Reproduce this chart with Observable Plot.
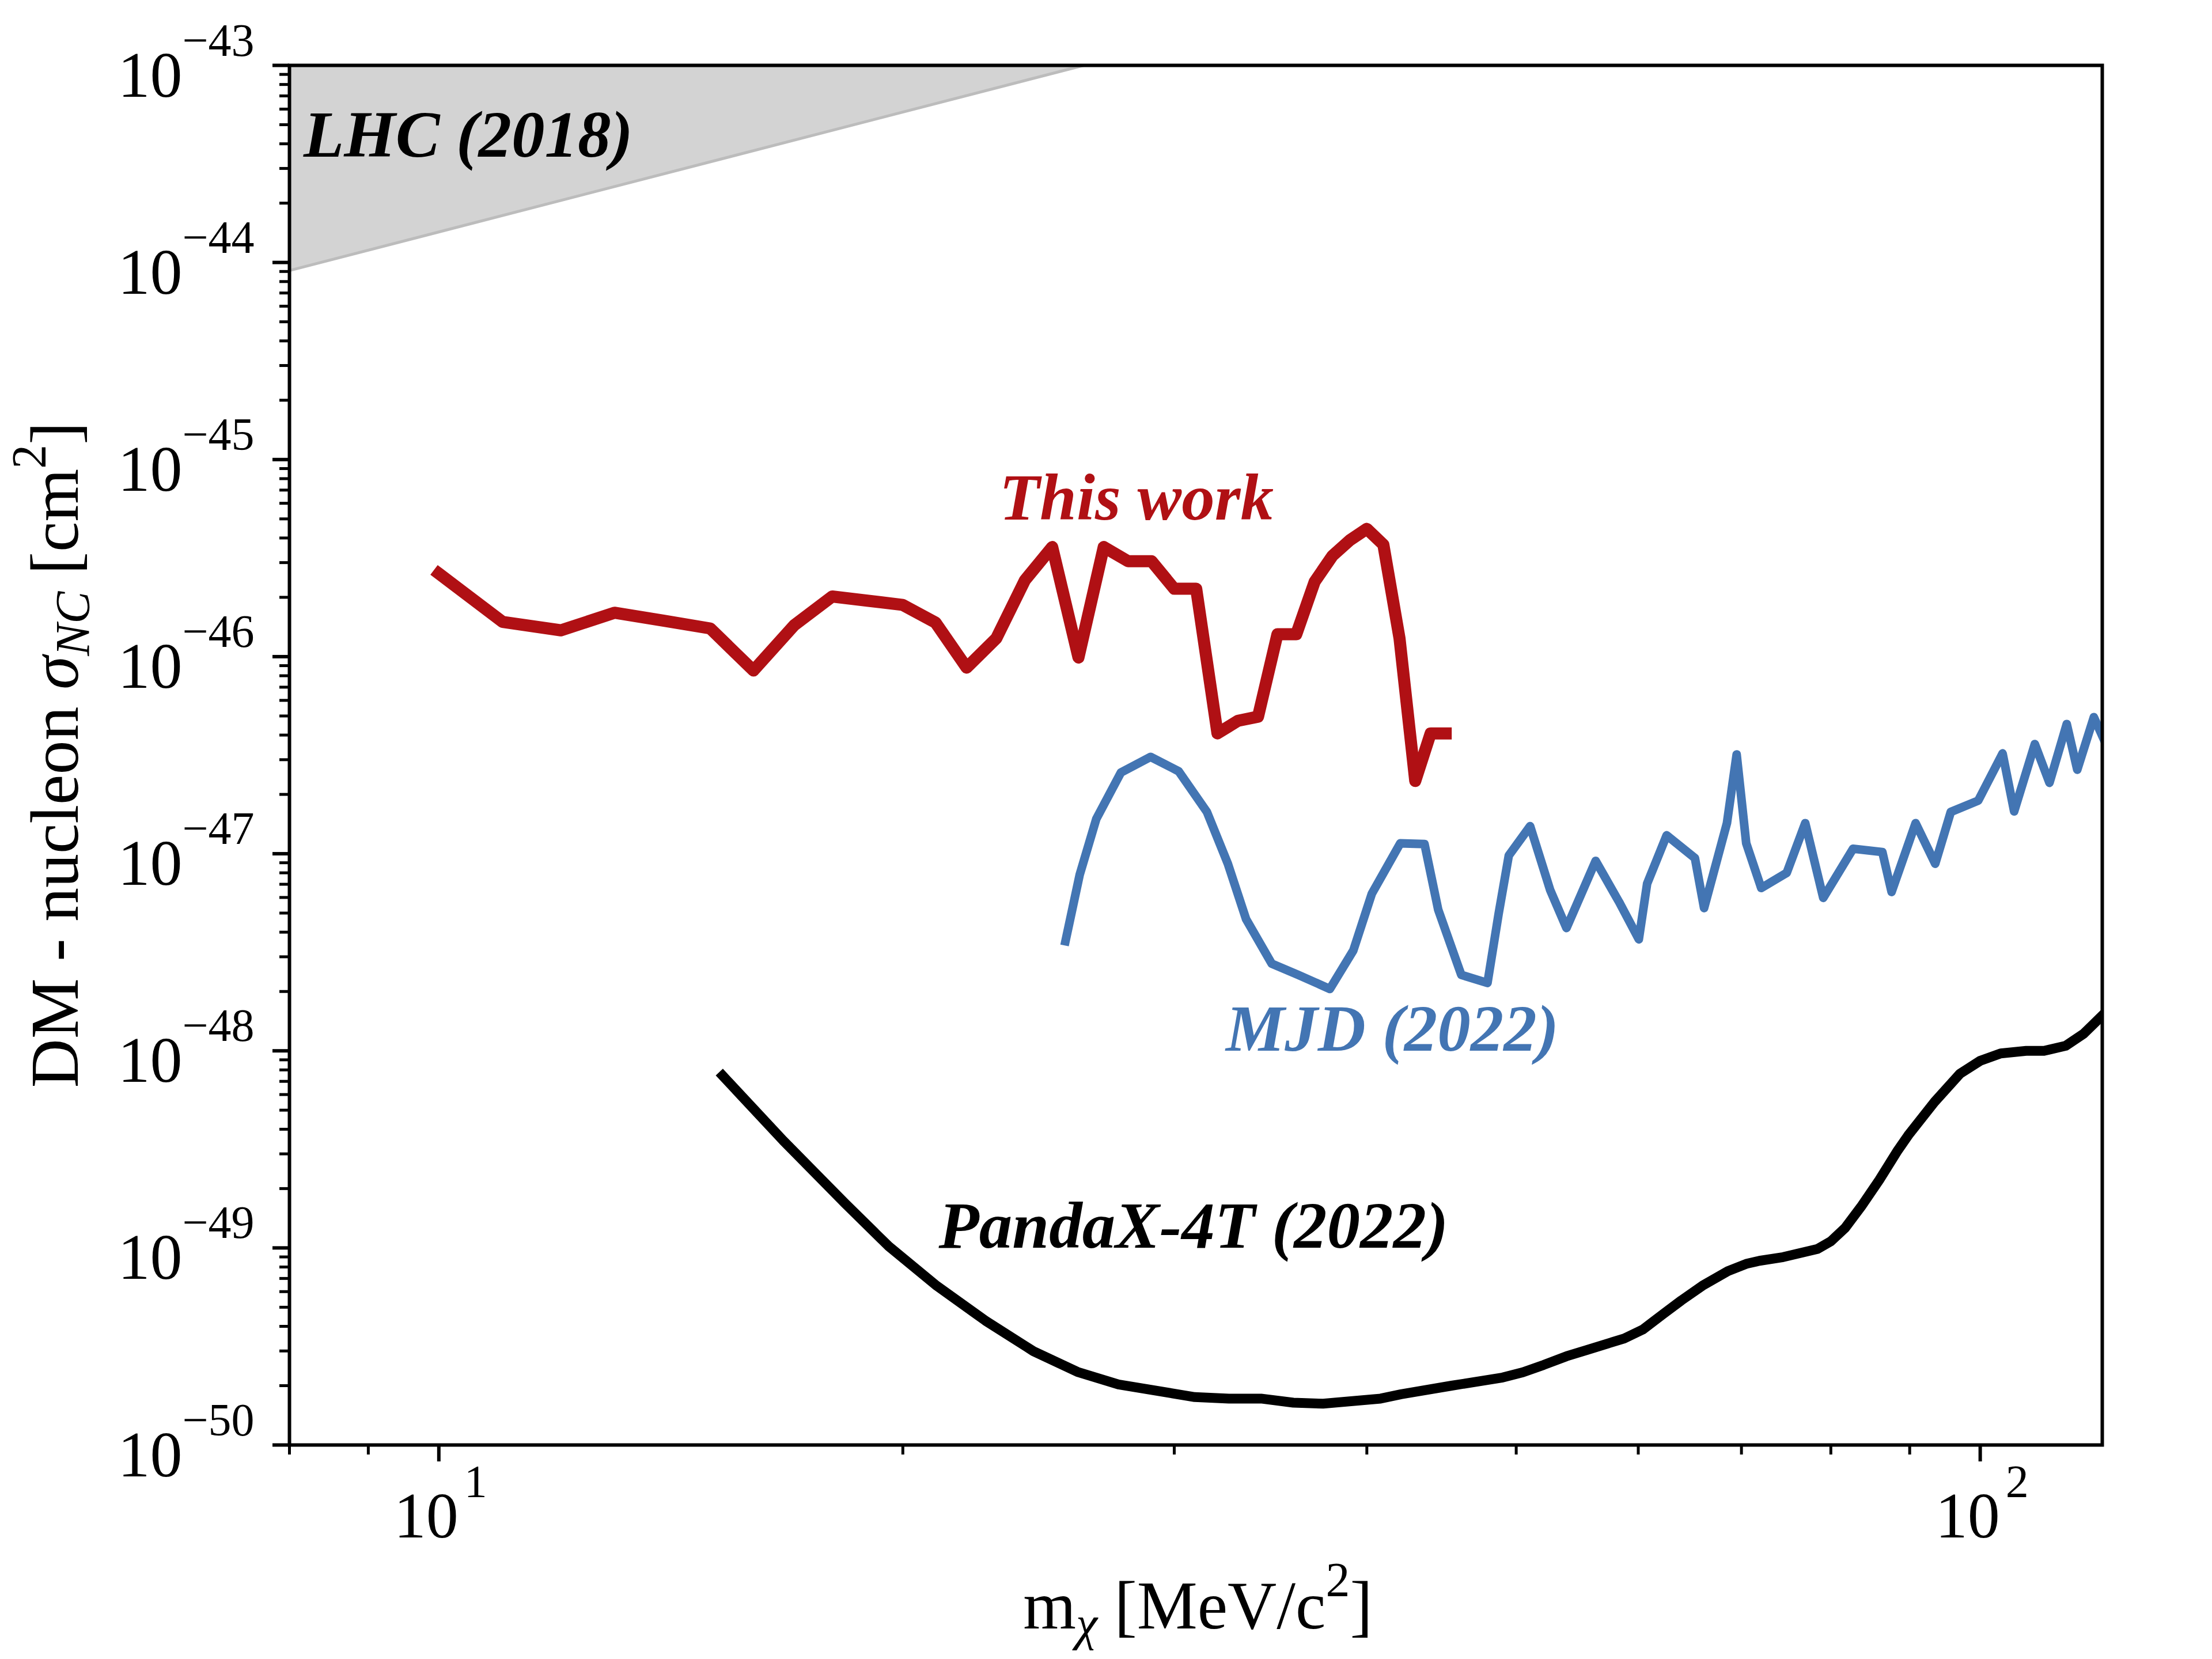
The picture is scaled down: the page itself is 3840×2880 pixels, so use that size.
<!DOCTYPE html>
<html>
<head>
<meta charset="utf-8">
<script src="https://cdn.jsdelivr.net/npm/d3@7"></script>
<script src="https://cdn.jsdelivr.net/npm/@observablehq/plot@0.6"></script>
<style>
  html, body { margin: 0; padding: 0; background: white; }
  svg { display: block; }
</style>
</head>
<body>
<div id="chart"></div>
<script>
// ---- data ----
const thisWorkMass = [10, 11, 12, 13, 14, 15, 16, 17, 18, 19, 20, 21, 22, 23, 24, 25, 26, 27, 28, 29, 30, 31, 32, 33, 34, 35, 36, 37, 38, 39, 40, 41, 42, 43, 44, 45];
const thisWorkSigma = [2.64e-46, 1.50e-46, 1.36e-46, 1.67e-46, 1.52e-46, 1.39e-46, 8.5e-47, 1.44e-46, 2.02e-46, 1.92e-46, 1.83e-46, 1.49e-46, 8.8e-47, 1.24e-46, 2.44e-46, 3.6e-46, 9.9e-47, 3.6e-46, 3.05e-46, 3.05e-46, 2.21e-46, 2.21e-46, 4.08e-47, 4.73e-47, 4.96e-47, 1.3e-46, 1.3e-46, 2.4e-46, 3.25e-46, 3.9e-46, 4.45e-46, 3.7e-46, 1.24e-46, 2.34e-47, 4.08e-47, 4.08e-47];

const mjdMass = [25.5, 26.05, 26.7, 27.7, 28.96, 30.2, 31.5, 32.5, 33.4, 34.7, 36.1, 37.85, 39.2, 40.3, 42.05, 43.6, 44.5, 46.06, 47.9, 48.7, 49.45, 51.05, 52.6, 53.9, 56.3, 58.3, 60.05, 60.8, 62.6, 65.3, 66.2, 68.5, 69.5, 70.5, 72.1, 74.9, 77.0, 79.1, 82.7, 86.4, 87.6, 90.8, 93.5, 95.7, 99.7, 103.4, 105.2, 108.5, 110.9, 113.8, 115.6, 118.5, 120.2];
const mjdSigma = [3.6e-48, 7.85e-48, 1.5e-47, 2.58e-47, 3.1e-47, 2.62e-47, 1.63e-47, 8.9e-48, 4.65e-48, 2.77e-48, 2.43e-48, 2.06e-48, 3.23e-48, 6.27e-48, 1.13e-47, 1.12e-47, 5.2e-48, 2.43e-48, 2.21e-48, 4.94e-48, 9.8e-48, 1.38e-47, 6.55e-48, 4.2e-48, 9.2e-48, 5.7e-48, 3.68e-48, 7.05e-48, 1.24e-47, 9.5e-48, 5.3e-48, 1.43e-47, 3.19e-47, 1.13e-47, 6.7e-48, 8.0e-48, 1.43e-47, 5.97e-48, 1.06e-47, 1.02e-47, 6.4e-48, 1.43e-47, 8.9e-48, 1.63e-47, 1.86e-47, 3.23e-47, 1.64e-47, 3.6e-47, 2.29e-47, 4.55e-47, 2.67e-47, 4.93e-47, 3.85e-47];

const pandaMass = [15.28, 16.73, 18.35, 19.58, 21.04, 22.62, 24.31, 25.96, 27.6, 30.93, 32.55, 34.15, 35.84, 37.47, 40.83, 42.1, 45.4, 49.0, 50.5, 52.1, 53.9, 55.6, 58.75, 60.4, 62.5, 64.0, 66.04, 68.6, 70.5, 71.9, 74.5, 78.4, 80.0, 81.7, 83.7, 86.0, 88.4, 89.9, 93.4, 97.0, 100, 103.1, 107.1, 110, 113.6, 116.7, 120];
const pandaSigma = [7.48e-49, 3.5e-49, 1.68e-49, 1.02e-49, 6.42e-50, 4.28e-50, 2.99e-50, 2.35e-50, 2.03e-50, 1.75e-50, 1.72e-50, 1.72e-50, 1.64e-50, 1.62e-50, 1.72e-50, 1.81e-50, 2.0e-50, 2.2e-50, 2.34e-50, 2.55e-50, 2.82e-50, 3.04e-50, 3.47e-50, 3.85e-50, 4.72e-50, 5.42e-50, 6.43e-50, 7.63e-50, 8.3e-50, 8.6e-50, 8.98e-50, 9.87e-50, 1.08e-49, 1.26e-49, 1.62e-49, 2.21e-49, 3.12e-49, 3.77e-49, 5.5e-49, 7.64e-49, 8.9e-49, 9.7e-49, 1.0e-48, 1.0e-48, 1.06e-48, 1.22e-48, 1.51e-48];

const lhcMass = [8, 26.2];
const lhcSigma = [9.1e-45, 1e-43];
const lhcTop = 1e-43;

const labelText = ["LHC (2018)", "This work", "MJD (2022)", "PandaX-4T (2022)"];
const labelMass = [8.17, 23.1, 32.4, 21.1];
const labelSigma = [3.45e-44, 4.95e-46, 1.0e-48, 1.0e-49];
const labelColor = ["#000000", "#b01014", "#4375b3", "#000000"];

const xMajorTicks = [10, 100];
const xMajorExp = ["1", "2"];
const xMinorTicks = [8, 9, 20, 30, 40, 50, 60, 70, 80, 90];
const yMajorTicks = [1e-50, 1e-49, 1e-48, 1e-47, 1e-46, 1e-45, 1e-44, 1e-43];
const yMajorExp = ["−50", "−49", "−48", "−47", "−46", "−45", "−44", "−43"];
const yMinorTicks = [];
for (let e = -50; e < -43; e++) for (let k = 2; k <= 9; k++) yMinorTicks.push(+(k + "e" + e));

// ---- tables ----
const thisWork = thisWorkMass.map((m, i) => ({m, s: thisWorkSigma[i]}));
const mjd = mjdMass.map((m, i) => ({m, s: mjdSigma[i]}));
const panda = pandaMass.map((m, i) => ({m, s: pandaSigma[i]}));
const lhc = lhcMass.map((m, i) => ({m, s: lhcSigma[i]}));
const labels = labelText.map((t, i) => ({t, m: labelMass[i], s: labelSigma[i], c: labelColor[i]}));
const xTickTable = xMajorTicks.map((v, i) => ({v, e: xMajorExp[i]}));
const yTickTable = yMajorTicks.map((v, i) => ({v, e: yMajorExp[i]}));

const FONT = "'Liberation Serif', 'Times New Roman', serif";
const mLeft = 502, mRight = 191, mTop = 113, mBottom = 372;

const chart = Plot.plot({
  width: 3840,
  height: 2880,
  marginLeft: mLeft,
  marginRight: mRight,
  marginTop: mTop,
  marginBottom: mBottom,
  style: {fontFamily: FONT, background: "white", color: "black"},
  x: {type: "log", domain: [8, 120], axis: null},
  y: {type: "log", domain: [1e-50, 1e-43], axis: null},
  marks: [
    Plot.areaY(lhc, {x: "m", y1: "s", y2: () => lhcTop, fill: "#d3d3d3", clip: true}),
    Plot.line(lhc, {x: "m", y: "s", stroke: "#bcbcbc", strokeWidth: 5, clip: true}),
    Plot.line(panda, {x: "m", y: "s", stroke: "#000000", strokeWidth: 17, strokeLinejoin: "round", strokeLinecap: "square", clip: true}),
    Plot.line(mjd, {x: "m", y: "s", stroke: "#4375b3", strokeWidth: 15, strokeLinejoin: "round", strokeLinecap: "square", clip: true}),
    Plot.line(thisWork, {x: "m", y: "s", stroke: "#b01014", strokeWidth: 21, strokeLinejoin: "round", strokeLinecap: "square", clip: true}),
    Plot.frame({stroke: "black", strokeWidth: 6}),
    Plot.axisX(xMajorTicks, {anchor: "bottom", tickSize: 29, strokeWidth: 6, tickFormat: () => "", label: null}),
    Plot.axisX(xMinorTicks, {anchor: "bottom", tickSize: 17, strokeWidth: 5, tickFormat: () => "", label: null}),
    Plot.axisY(yMajorTicks, {anchor: "left", tickSize: 29, strokeWidth: 6, tickFormat: () => "", label: null}),
    Plot.axisY(yMinorTicks, {anchor: "left", tickSize: 17, strokeWidth: 5, tickFormat: () => "", label: null}),
    // y tick labels 10^e
    Plot.text(yTickTable, {x: () => 8, y: "v", text: () => "10", textAnchor: "end", lineAnchor: "bottom", dx: -186, dy: 54, fontSize: 112, fill: "black"}),
    Plot.text(yTickTable, {x: () => 8, y: "v", text: "e", textAnchor: "end", lineAnchor: "bottom", dx: -61, dy: -17, fontSize: 80, fill: "black"}),
    // x tick labels 10^e
    Plot.text(xTickTable, {x: "v", y: () => 1e-50, text: () => "10", textAnchor: "end", lineAnchor: "bottom", dx: 34, dy: 160, fontSize: 112, fill: "black"}),
    Plot.text(xTickTable, {x: "v", y: () => 1e-50, text: "e", textAnchor: "start", lineAnchor: "bottom", dx: 44, dy: 90, fontSize: 80, fill: "black"}),
    // curve labels
    Plot.text(labels, {x: "m", y: "s", text: "t", fill: "c", textAnchor: "start", lineAnchor: "bottom", fontSize: 115, fontWeight: "bold", fontStyle: "italic"})
  ]
});

document.getElementById("chart").appendChild(chart);

// axis titles with sub/superscripts
const svg = d3.select(chart);
const plotMidX = (mLeft + (3840 - mRight)) / 2;
const plotMidY = (mTop + (2880 - mBottom)) / 2;

const xl = svg.append("text")
  .attr("x", plotMidX + 4).attr("y", 2827)
  .attr("text-anchor", "middle")
  .attr("font-family", FONT).attr("font-size", 118).attr("fill", "black");
xl.append("tspan").text("m");
xl.append("tspan").attr("font-style", "italic").attr("font-size", 84).attr("dy", 20).text("χ");
xl.append("tspan").attr("dy", -20).text(" [MeV/c");
xl.append("tspan").attr("font-size", 84).attr("dy", -56).text("2");
xl.append("tspan").attr("dy", 56).text("]");

const yl = svg.append("text")
  .attr("transform", `translate(135,${plotMidY}) rotate(-90)`)
  .attr("text-anchor", "middle")
  .attr("font-family", FONT).attr("font-size", 118).attr("fill", "black");
yl.append("tspan").text("DM - nucleon ");
yl.append("tspan").attr("font-style", "italic").text("σ");
yl.append("tspan").attr("font-style", "italic").attr("font-size", 84).attr("dy", 20).text("NC");
yl.append("tspan").attr("dy", -20).text(" [cm");
yl.append("tspan").attr("font-size", 84).attr("dy", -56).text("2");
yl.append("tspan").attr("dy", 56).text("]");
</script>
</body>
</html>
